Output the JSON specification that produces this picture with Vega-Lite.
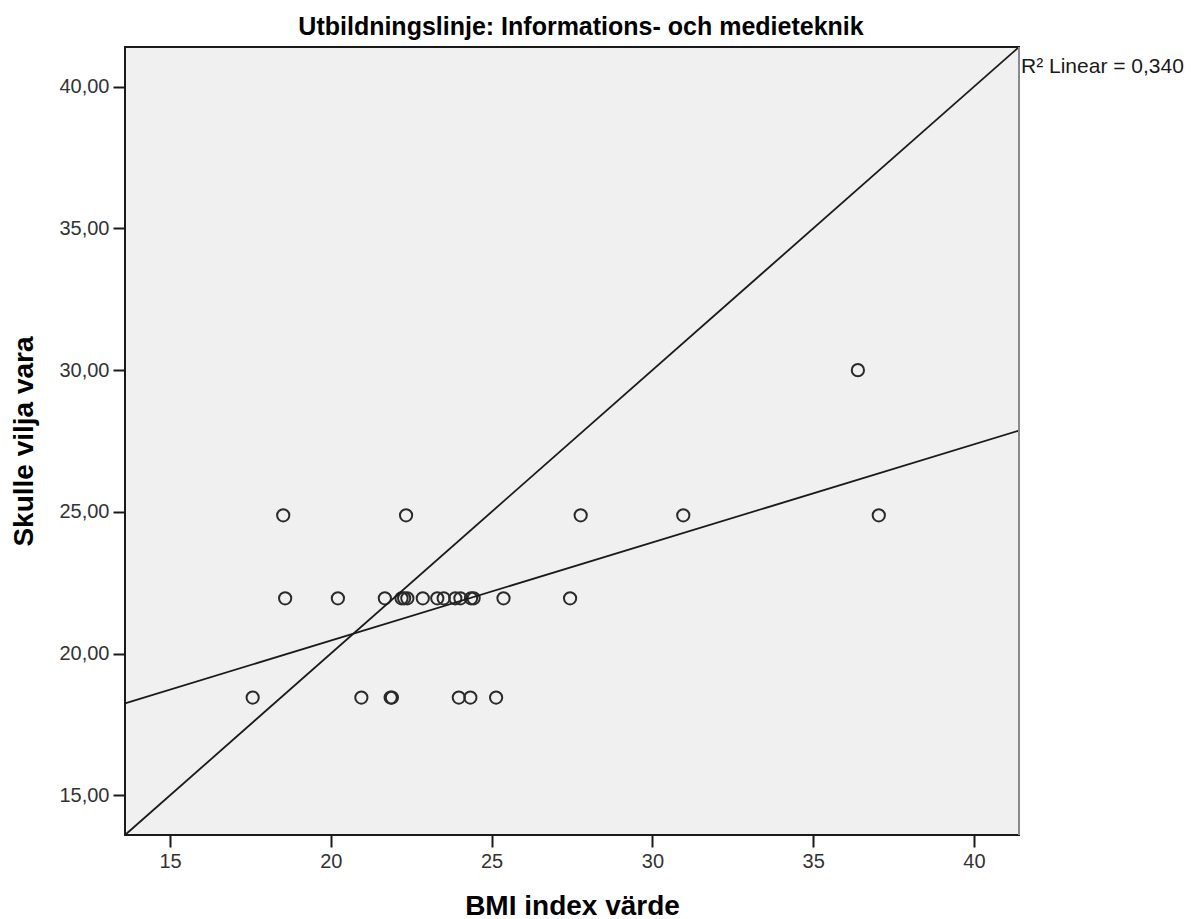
{
  "$schema": "https://vega.github.io/schema/vega-lite/v6.json",
  "width": 894,
  "height": 788,
  "autosize": {"type": "none"},
  "padding": {"left": 125, "top": 47, "right": 176, "bottom": 84},
  "background": "white",
  "config": {
    "font": "Liberation Sans",
    "view": {"fill": "#f0f0f0", "stroke": "#1a1a1a", "strokeWidth": 2}
  },
  "title": {
    "text": "Utbildningslinje: Informations- och medieteknik",
    "fontSize": 25,
    "fontWeight": "bold",
    "color": "black",
    "anchor": "middle",
    "dx": 9,
    "dy": 28,
    "offset": 14,
    "baseline": "alphabetic"
  },
  "datasets": {
    "points": [
      {"bmi": 18.52, "ideal": 24.88},
      {"bmi": 22.34, "ideal": 24.88},
      {"bmi": 27.77, "ideal": 24.88},
      {"bmi": 30.96, "ideal": 24.88},
      {"bmi": 37.04, "ideal": 24.88},
      {"bmi": 36.39, "ideal": 30.0},
      {"bmi": 18.58, "ideal": 21.95},
      {"bmi": 20.22, "ideal": 21.95},
      {"bmi": 21.68, "ideal": 21.95},
      {"bmi": 22.2, "ideal": 21.95},
      {"bmi": 22.28, "ideal": 21.95},
      {"bmi": 22.38, "ideal": 21.95},
      {"bmi": 22.86, "ideal": 21.95},
      {"bmi": 23.31, "ideal": 21.95},
      {"bmi": 23.51, "ideal": 21.95},
      {"bmi": 23.87, "ideal": 21.95},
      {"bmi": 24.03, "ideal": 21.95},
      {"bmi": 24.36, "ideal": 21.95},
      {"bmi": 24.44, "ideal": 21.95},
      {"bmi": 25.37, "ideal": 21.95},
      {"bmi": 27.44, "ideal": 21.95},
      {"bmi": 17.57, "ideal": 18.45},
      {"bmi": 20.95, "ideal": 18.45},
      {"bmi": 21.86, "ideal": 18.45},
      {"bmi": 21.9, "ideal": 18.45},
      {"bmi": 23.98, "ideal": 18.45},
      {"bmi": 24.34, "ideal": 18.45},
      {"bmi": 25.14, "ideal": 18.45}
    ]
  },
  "layer": [
    {
      "data": {"name": "points"},
      "mark": {"type": "point", "shape": "circle", "filled": false, "size": 150, "strokeWidth": 2, "color": "#2a2a2a", "opacity": 1},
      "encoding": {
        "x": {
          "field": "bmi",
          "type": "quantitative",
          "scale": {"domain": [13.6, 41.4], "nice": false, "zero": false},
          "axis": {
            "values": [15, 20, 25, 30, 35, 40],
            "grid": false,
            "domain": false,
            "tickSize": 12,
            "tickWidth": 2,
            "tickColor": "#1a1a1a",
            "labelFontSize": 20,
            "labelColor": "#333333",
            "labelPadding": 4,
            "title": "BMI index värde",
            "titleFontSize": 28,
            "titleFontWeight": "bold",
            "titleColor": "black",
            "titlePadding": 21
          }
        },
        "y": {
          "field": "ideal",
          "type": "quantitative",
          "scale": {"domain": [13.6, 41.4], "nice": false, "zero": false},
          "axis": {
            "values": [15, 20, 25, 30, 35, 40],
            "labelExpr": "replace(format(datum.value, '.2f'), '.', ',')",
            "grid": false,
            "domain": false,
            "tickSize": 12,
            "tickWidth": 2,
            "tickColor": "#1a1a1a",
            "labelFontSize": 20,
            "labelColor": "#333333",
            "labelPadding": 4,
            "title": "Skulle vilja vara",
            "titleFontSize": 28,
            "titleFontWeight": "bold",
            "titleColor": "black",
            "titlePadding": 20
          }
        }
      }
    },
    {
      "data": {"name": "points"},
      "transform": [{"regression": "ideal", "on": "bmi", "extent": [13.6, 41.4]}],
      "mark": {"type": "line", "color": "#1a1a1a", "strokeWidth": 1.8},
      "encoding": {
        "x": {"field": "bmi", "type": "quantitative"},
        "y": {"field": "ideal", "type": "quantitative"}
      }
    },
    {
      "data": {"values": [{}]},
      "mark": {"type": "rule", "color": "#1a1a1a", "strokeWidth": 1.8},
      "encoding": {
        "x": {"datum": 13.6},
        "y": {"datum": 13.6},
        "x2": {"datum": 41.4},
        "y2": {"datum": 41.4}
      }
    },
    {
      "data": {"values": [{}]},
      "mark": {"type": "rule", "color": "#8a8a8a", "strokeWidth": 2},
      "encoding": {"x": {"datum": 41.4}}
    },
    {
      "data": {"values": [{}]},
      "mark": {"type": "text", "align": "left", "baseline": "alphabetic", "dx": 2, "dy": 26, "fontSize": 21, "color": "#1a1a1a", "clip": false},
      "encoding": {
        "x": {"datum": 41.4},
        "y": {"datum": 41.4},
        "text": {"value": "R² Linear = 0,340"}
      }
    }
  ]
}
